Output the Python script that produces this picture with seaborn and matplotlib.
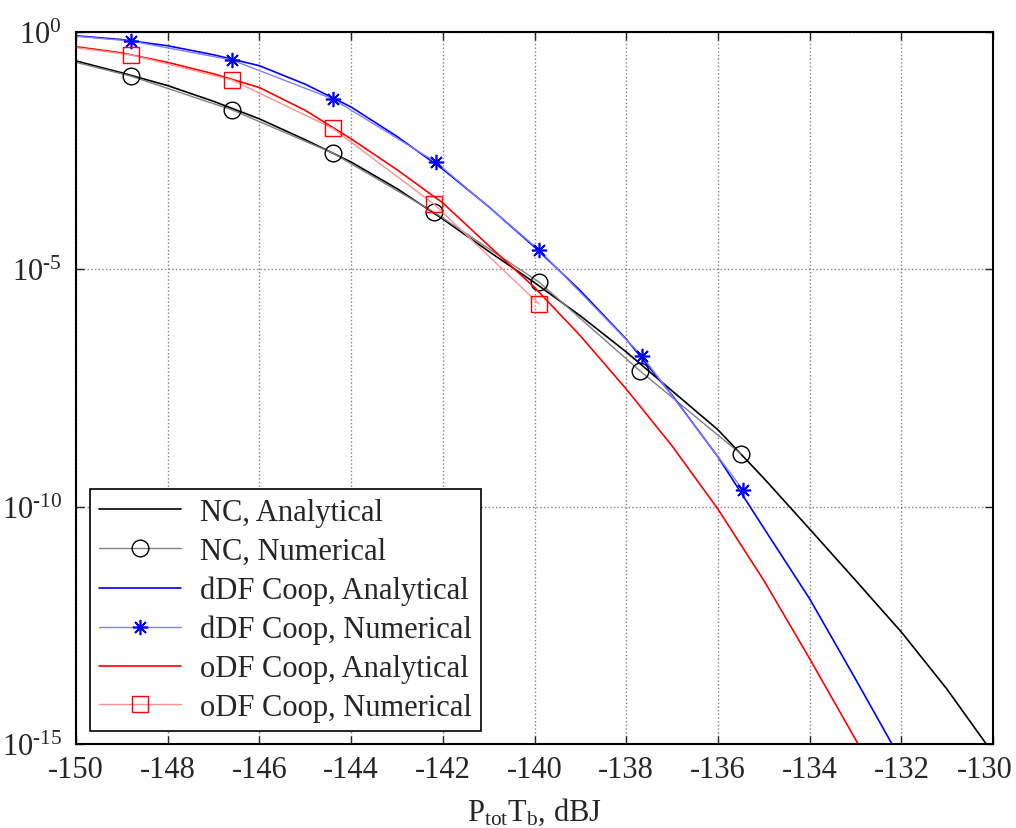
import numpy as np
import pandas as pd
import matplotlib
matplotlib.use("Agg")
import matplotlib.pyplot as plt
import matplotlib.transforms as mtransforms
import seaborn as sns
from matplotlib.ticker import NullLocator, FuncFormatter

# analytical curves, BER as log10 values
ana_x = [-150, -149, -148, -147, -146, -145, -144, -143, -142, -141,
         -140, -139, -138, -137, -136, -135, -134, -133, -132, -131, -130]
nc_ana_log = [-0.61, -0.86, -1.13, -1.46, -1.83, -2.27, -2.74, -3.30, -3.94, -4.62,
              -5.28, -5.98, -6.74, -7.56, -8.38, -9.40, -10.47, -11.55, -12.64, -13.85, -15.2]
ddf_ana_log = [-0.08, -0.16, -0.29, -0.48, -0.71, -1.10, -1.58, -2.20, -2.89, -3.68,
               -4.53, -5.45, -6.47, -7.65, -8.95, -10.45, -11.94, -13.63, -15.35, -17.0, -18.7]
odf_ana_log = [-0.31, -0.44, -0.64, -0.88, -1.17, -1.65, -2.25, -2.90, -3.60, -4.50,
               -5.38, -6.40, -7.52, -8.72, -10.05, -11.55, -13.20, -14.90, -16.6, -18.3, -20.0]

# numerical (simulated) points
nc_num_x = [-150, -148.8, -146.6, -144.4, -142.2, -139.9, -137.7, -135.5]
nc_num_log = [-0.64, -0.93, -1.64, -2.55, -3.79, -5.27, -7.14, -8.89]
ddf_num_x = [-150, -148.8, -146.6, -144.4, -142.15, -139.9, -137.65, -135.45]
ddf_num_log = [-0.09, -0.19, -0.59, -1.41, -2.74, -4.59, -6.83, -9.65]
odf_num_x = [-150, -148.8, -146.6, -144.4, -142.2, -139.9]
odf_num_log = [-0.33, -0.48, -1.01, -2.03, -3.62, -5.73]

labels = ["NC, Analytical", "NC, Numerical",
          "dDF Coop, Analytical", "dDF Coop, Numerical",
          "oDF Coop, Analytical", "oDF Coop, Numerical"]

sns.set_style("ticks")
plt.rcParams["font.family"] = ["Liberation Serif", "DejaVu Serif"]
plt.rcParams["mathtext.fontset"] = "custom"
plt.rcParams["mathtext.rm"] = "Liberation Serif"
plt.rcParams["mathtext.it"] = "Liberation Serif:italic"
plt.rcParams["axes.unicode_minus"] = False
plt.rcParams["font.size"] = 22

fig = plt.figure(figsize=(10.16, 8.29), dpi=100)
ax = fig.add_axes([0.0748, 0.1013, 0.9026, 0.8589])


def ber(vals):
    return 10.0 ** np.array(vals)


def decade_label(v, pos):
    e = int(round(np.log10(v)))
    exp = "0" if e == 0 else "\u2010" + str(-e)
    return r"$\mathrm{10^{" + exp + "}}$"


ana = pd.DataFrame({"x": ana_x, "nc": ber(nc_ana_log), "ddf": ber(ddf_ana_log), "odf": ber(odf_ana_log)})

sns.lineplot(data=ana, x="x", y="nc", ax=ax, color="black", linewidth=1.2,
             label=labels[0], estimator=None, sort=False)
sns.lineplot(x=nc_num_x, y=ber(nc_num_log), ax=ax, color="#808080", linewidth=1.0,
             marker="o", markersize=12, markerfacecolor="none", markeredgecolor="black",
             markeredgewidth=1.0, markevery=list(range(1, len(nc_num_x))),
             label=labels[1], estimator=None, sort=False)
sns.lineplot(data=ana, x="x", y="ddf", ax=ax, color="#0000ff", linewidth=1.2,
             label=labels[2], estimator=None, sort=False)
sns.lineplot(x=ddf_num_x, y=ber(ddf_num_log), ax=ax, color="#8080ff", linewidth=1.0,
             marker=(8, 2, 0), markersize=11, markeredgecolor="#0000ff",
             markeredgewidth=1.2, markevery=list(range(1, len(ddf_num_x))),
             label=labels[3], estimator=None, sort=False)
sns.lineplot(data=ana, x="x", y="odf", ax=ax, color="#ff0000", linewidth=1.2,
             label=labels[4], estimator=None, sort=False)
sns.lineplot(x=odf_num_x, y=ber(odf_num_log), ax=ax, color="#ff9090", linewidth=1.0,
             marker="s", markersize=12, markerfacecolor="none", markeredgecolor="#ff0000",
             markeredgewidth=1.0, markevery=list(range(1, len(odf_num_x))),
             label=labels[5], estimator=None, sort=False)

ax.set_yscale("log")
ax.set_xlim(-150, -130)
ax.set_ylim(1e-15, 1)
ax.set_xticks(np.arange(-150, -129, 2))
ax.set_yticks([1e-15, 1e-10, 1e-5, 1e0])
ax.yaxis.set_minor_locator(NullLocator())
ax.yaxis.set_major_formatter(FuncFormatter(decade_label))
ax.grid(True, color="0.5", linestyle=":", linewidth=1.0)
ax.tick_params(direction="in", top=True, right=True, length=6, width=1, labelsize=22)
ax.tick_params(axis="x", pad=8)
ax.tick_params(axis="y", pad=10)
for s in ax.spines.values():
    s.set_linewidth(1.5)
    s.set_color("black")

# nudge the last x tick label so it stays inside the figure
last = ax.get_xticklabels()[-1]
last.set_transform(last.get_transform() + mtransforms.ScaledTranslation(-0.08, 0, fig.dpi_scale_trans))

ax.set_xlabel(r"P$_{\rm tot}$T$_{\rm b}$, dBJ", fontsize=22, labelpad=8)
ax.set_ylabel("")

leg = ax.legend(loc="lower left", bbox_to_anchor=(0.015, 0.018), borderaxespad=0,
                fancybox=False, framealpha=1, edgecolor="black", fontsize=22,
                handlelength=2.7, labelspacing=0.32, borderpad=0.3, handletextpad=0.6)
leg.get_frame().set_linewidth(1.2)

fig.savefig("out.png", dpi=100, facecolor="white")
